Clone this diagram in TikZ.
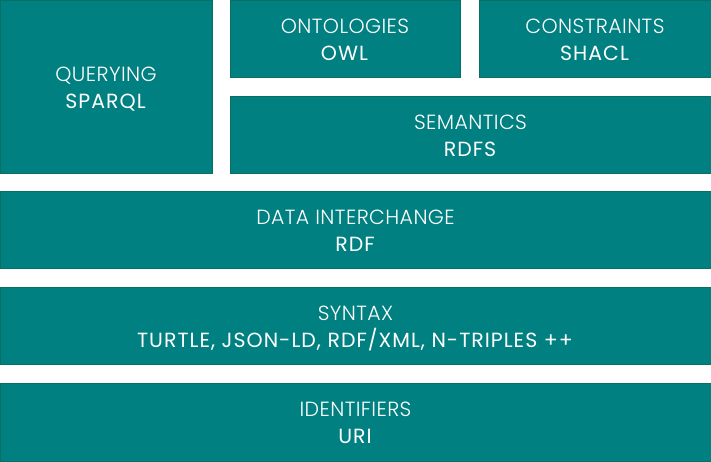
\documentclass[tikz,border=0pt]{standalone}
\usepackage{fontspec}
\setmainfont{Poppins}[UprightFont=* Light, BoldFont=* Regular,
  UprightFeatures={LetterSpace=2}, BoldFeatures={LetterSpace=5}]
\usepackage{xcolor}
\definecolor{layerfill}{HTML}{008080}
\definecolor{layerline}{HTML}{0B6E62}

\tikzset{
  layer/.style={draw=layerline, fill=layerfill, line width=0.8pt, inner sep=0pt,
    text=white, align=center, font=\fontsize{20.5}{27}\selectfont,
    text height=44pt, text depth=1pt}
}
\newcommand{\lyr}[2]{#1\\\textbf{#2}}

\begin{document}
\begin{tikzpicture}[x=1pt,y=-1pt]
\useasboundingbox (0,0) rectangle (711,461);
% top row
\node[layer, minimum width=212pt, minimum height=173pt] (query) at (106,86.5) {\lyr{QUERYING}{SPARQL}};
\node[layer, minimum width=230pt, minimum height=77pt] (onto) at (345,38.5) {\lyr{ONTOLOGIES}{OWL}};
\node[layer, minimum width=232pt, minimum height=77pt] (shacl) at (595,38.5) {\lyr{CONSTRAINTS}{SHACL}};
\node[layer, minimum width=481pt, minimum height=77pt] (sem) at (470.5,134.5) {\lyr{SEMANTICS}{RDFS}};
% full width layers
\node[layer, minimum width=711pt, minimum height=77pt] (rdf) at (355.5,229.5) {\lyr{DATA INTERCHANGE}{RDF}};
\node[layer, minimum width=711pt, minimum height=77pt] (syntax) at (355.5,325.5) {\lyr{SYNTAX}{TURTLE, JSON-LD, RDF/XML, N-TRIPLES ++}};
\node[layer, minimum width=711pt, minimum height=78pt] (uri) at (355.5,422) {\lyr{IDENTIFIERS}{URI}};
\end{tikzpicture}
\end{document}
